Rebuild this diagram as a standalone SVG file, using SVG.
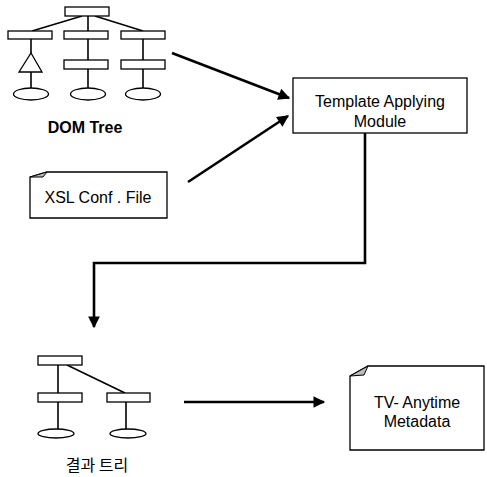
<svg xmlns="http://www.w3.org/2000/svg" width="487" height="477" viewBox="0 0 487 477">
<style>
.bx{fill:#fff;stroke:#000;stroke-width:1.3}
.ln{stroke:#000;stroke-width:1.6;fill:none}
.t{font-family:"Liberation Sans",Arial,sans-serif;font-size:16px;fill:#000;text-anchor:middle}
.ar{stroke:#000;stroke-width:2.6;fill:none}
.fold{fill:#bbb;stroke:#000;stroke-width:1}
</style>
<defs>
<marker id="ah" viewBox="0 0 10 10" refX="9" refY="5" markerWidth="5" markerHeight="4.5" markerUnits="strokeWidth" orient="auto">
<path d="M0,0 L10,5 L0,10 Z" fill="#000"/>
</marker>
</defs>
<rect width="487" height="477" fill="#fff"/>
<g id="dom-tree">
<g class="ln">
<line x1="82" y1="16" x2="32" y2="31"/>
<line x1="88" y1="16" x2="88" y2="31"/>
<line x1="95" y1="16" x2="143" y2="31"/>
<line x1="31" y1="39" x2="31" y2="53"/>
<line x1="31" y1="72" x2="31" y2="88"/>
<line x1="88" y1="39" x2="88" y2="60"/>
<line x1="88" y1="69" x2="88" y2="88"/>
<line x1="143" y1="39" x2="143" y2="60"/>
<line x1="143" y1="69" x2="143" y2="88"/>
</g>
<rect class="bx" x="65" y="7" width="44" height="9"/>
<rect class="bx" x="8" y="31" width="44" height="8"/>
<rect class="bx" x="64" y="31" width="44" height="8"/>
<rect class="bx" x="121" y="31" width="44" height="8"/>
<rect class="bx" x="64" y="60" width="44" height="9"/>
<rect class="bx" x="121" y="60" width="44" height="9"/>
<polygon class="bx" points="31,53 42,72 19,72"/>
<ellipse class="bx" cx="31" cy="94" rx="17.5" ry="6"/>
<ellipse class="bx" cx="88" cy="94" rx="17.5" ry="6"/>
<ellipse class="bx" cx="143" cy="94" rx="17.5" ry="6"/>
<text class="t" x="85" y="133" style="font-weight:bold">DOM Tree</text>
</g>
<g id="template">
<rect class="bx" x="293" y="78" width="174" height="55"/>
<text class="t" x="380" y="107">Template Applying</text>
<text class="t" x="380" y="127">Module</text>
</g>
<g id="xsl">
<path class="bx" d="M30,177 L47,172 L167,172 L167,218 L30,218 Z"/>
<path class="fold" d="M30,177 L47,172 L43,177 Z"/>
<text class="t" x="98" y="203">XSL Conf . File</text>
</g>
<g id="result-tree">
<g class="ln">
<line x1="58" y1="365" x2="58" y2="393"/>
<line x1="67" y1="365" x2="125" y2="393"/>
<line x1="58" y1="402" x2="58" y2="429"/>
<line x1="126" y1="402" x2="126" y2="429"/>
</g>
<rect class="bx" x="38" y="356" width="44" height="9"/>
<rect class="bx" x="38" y="393" width="44" height="9"/>
<rect class="bx" x="107" y="393" width="43" height="9"/>
<ellipse class="bx" cx="56" cy="433.5" rx="18" ry="4.5"/>
<ellipse class="bx" cx="128" cy="433.5" rx="18" ry="4.5"/>
<text class="t" x="97" y="471" style="font-family:'Noto Sans CJK KR',sans-serif">결과 트리</text>
</g>
<g id="tv">
<path class="bx" d="M350,376 L368,366 L484,366 L484,450 L350,450 Z"/>
<path class="fold" d="M350,376 L368,366 L364,375 Z"/>
<text class="t" x="417" y="408">TV- Anytime</text>
<text class="t" x="417" y="427">Metadata</text>
</g>
<g id="connectors">
<line class="ar" x1="172" y1="53" x2="289" y2="98" marker-end="url(#ah)"/>
<line class="ar" x1="188" y1="182" x2="288" y2="116" marker-end="url(#ah)"/>
<polyline class="ar" points="365,133 365,263 94,263 94,327" marker-end="url(#ah)"/>
<line class="ar" x1="184" y1="402" x2="324" y2="402" marker-end="url(#ah)"/>
</g>
</svg>
